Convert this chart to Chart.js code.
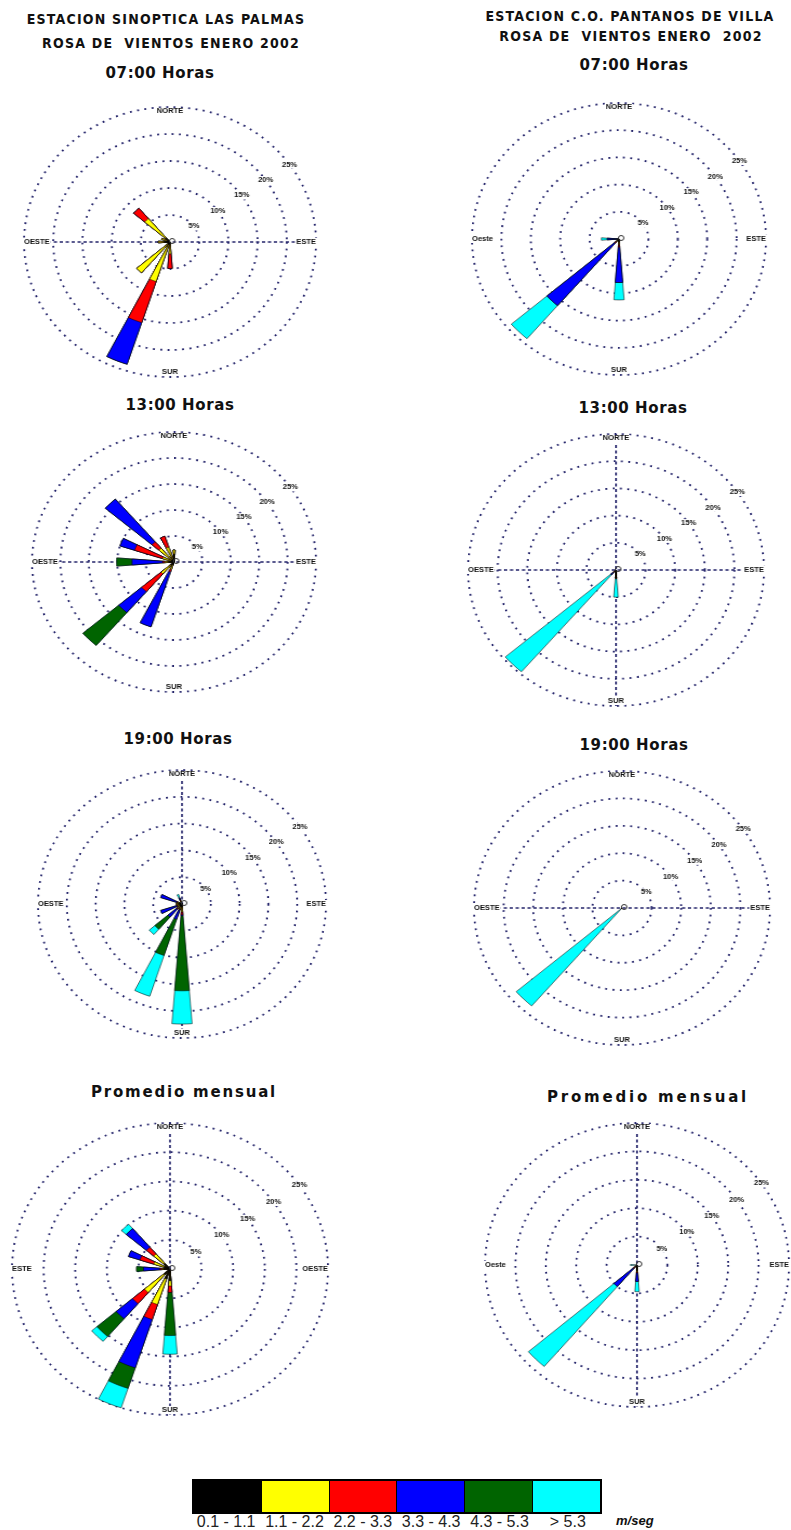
<!DOCTYPE html>
<html>
<head>
<meta charset="utf-8">
<title>Rosa de vientos enero 2002</title>
<script src="https://cdn.jsdelivr.net/npm/chart.js@4.4.1/dist/chart.umd.min.js"></script>
<style>
  html, body { margin: 0; padding: 0; background: #fff; }
  body { width: 791px; height: 1530px; position: relative; overflow: hidden; font-family: 'Liberation Sans', Arial, sans-serif; }
  .t { position: absolute; white-space: nowrap; transform: translate(-50%, -50%); color: #111; }
  .head { font-family: 'Liberation Sans Narrow', 'DejaVu Sans Condensed', sans-serif; font-weight: bold; font-size: 14px; letter-spacing: 1.2px; }
  .hour { font-family: 'DejaVu Sans', sans-serif; font-weight: bold; font-size: 15px; letter-spacing: 0.6px; }
  .rose { position: absolute; }
  .rose canvas { display: block; }
  #scale { position: absolute; left: 192px; top: 1479px; width: 406px; height: 31px; border: 2px solid #000; display: flex; }
  #scale div { flex: 1; border-left: 1px solid #000; }
  #scale div:first-child { border-left: none; }
  .cls { position: absolute; top: 1522px; transform: translate(-50%, -50%); font-size: 16px; color: #222; white-space: nowrap; }
  #units { position: absolute; left: 616px; top: 1513px; font-size: 13px; font-weight: bold; font-style: italic; color: #111; }
</style>
</head>
<body>

<div class="t head" style="left:166px; top:19px;">ESTACION SINOPTICA LAS PALMAS</div>
<div class="t head" style="left:171px; top:43px;">ROSA DE&nbsp; VIENTOS ENERO 2002</div>
<div class="t hour" style="left:160px; top:73px;">07:00 Horas</div>

<div class="t head" style="left:630px; top:16px;">ESTACION C.O. PANTANOS DE VILLA</div>
<div class="t head" style="left:631px; top:36px;">ROSA DE&nbsp; VIENTOS ENERO&nbsp; 2002</div>
<div class="t hour" style="left:634px; top:65px;">07:00 Horas</div>

<div class="t hour" style="left:180px; top:405px;">13:00 Horas</div>
<div class="t hour" style="left:633px; top:408px;">13:00 Horas</div>
<div class="t hour" style="left:178px; top:739px;">19:00 Horas</div>
<div class="t hour" style="left:634px; top:745px;">19:00 Horas</div>
<div class="t hour" style="left:184px; top:1092px; letter-spacing:1.8px;">Promedio mensual</div>
<div class="t hour" style="left:648px; top:1097px; letter-spacing:2.8px;">Promedio mensual</div>

<div class="rose" id="wrap1"><canvas id="c1"></canvas></div>
<div class="rose" id="wrap2"><canvas id="c2"></canvas></div>
<div class="rose" id="wrap3"><canvas id="c3"></canvas></div>
<div class="rose" id="wrap4"><canvas id="c4"></canvas></div>
<div class="rose" id="wrap5"><canvas id="c5"></canvas></div>
<div class="rose" id="wrap6"><canvas id="c6"></canvas></div>
<div class="rose" id="wrap7"><canvas id="c7"></canvas></div>
<div class="rose" id="wrap8"><canvas id="c8"></canvas></div>

<div id="scale"></div>
<div id="units">m/seg</div>

<script>
// Sixteen compass sectors, clockwise from north
const DIRECTIONS = ['N','NNE','NE','ENE','E','ESE','SE','SSE','S','SSW','SW','WSW','W','WNW','NW','NNW'];
// Wind speed classes (m/seg) and their colours
const SPEED_CLASSES = ['0.1 - 1.1', '1.1 - 2.2', '2.2 - 3.3', '3.3 - 4.3', '4.3 - 5.3', '> 5.3'];
const CLASS_COLORS = ['#000000', '#ffff00', '#ff0000', '#0000ff', '#006400', '#00ffff'];
// Frequency rings (%)
const RING_VALUES = [5, 10, 15, 20, 25];
const RING_LABELS = ['5%', '10%', '15%', '20%', '25%'];

// Frequency (%) per speed class (rows) and direction (columns N..NNW)
const lasPalmas07 = [
  [0,0,0,0,0,0,0,0, 0.3, 0.5, 0.5, 0, 1.0, 0.5, 1.0, 0],
  [0,0,0,0,0,0,0,0, 1.9, 7.2, 7.0, 0, 1.0, 1.0, 4.7, 0],
  [0,0,0,0,0,0,0,0, 2.7, 8.0, 0,   0, 0,   0,   2.5, 0],
  [0,0,0,0,0,0,0,0, 0,   8.1, 0,   0, 0,   0,   0,   0],
  [0,0,0,0,0,0,0,0, 0,   0,   0,   0, 0,   0,   0,   0],
  [0,0,0,0,0,0,0,0, 0,   0,   0,   0, 0,   0,   0,   0]
];
const pantanos07 = [
  [0,0,0,0,0,0,0,0, 0.5, 0, 0.3,  0, 0,   0, 0, 0],
  [0,0,0,0,0,0,0,0, 0.5, 0, 0.3,  0, 0,   0, 0, 0],
  [0,0,0,0,0,0,0,0, 0.5, 0, 0.4,  0, 0,   0, 0, 0],
  [0,0,0,0,0,0,0,0, 6.5, 0, 15.1, 0, 2.0, 0, 0, 0],
  [0,0,0,0,0,0,0,0, 0,   0, 0,    0, 0,   0, 0, 0],
  [0,0,0,0,0,0,0,0, 3.2, 0, 8.0,  0, 1.0, 0, 0, 0]
];
const lasPalmas13 = [
  [1.5,0,0,0,0,0,0,0, 0, 0.5,  0.8, 0, 1.0, 0.5, 0.5,  0.5],
  [0.8,0,0,0,0,0,0,0, 0, 1.0,  2.2, 0, 0.6, 1.6, 3.0,  2.5],
  [0,  0,0,0,0,0,0,0, 0, 0.5,  4.5, 0, 0.4, 5.2, 1.6,  2.2],
  [0,  0,0,0,0,0,0,0, 0, 11.1, 5.3, 0, 5.4, 2.7, 10.8, 0],
  [0,  0,0,0,0,0,0,0, 0, 0,    8.3, 0, 2.7, 0,   0,    0],
  [0,  0,0,0,0,0,0,0, 0, 0,    0,   0, 0,   0,   0,    0]
];
const pantanos13 = [
  [0,0,0,0,0,0,0,0, 1.5, 0, 0.2,  0, 0, 0, 0, 0],
  [0,0,0,0,0,0,0,0, 0,   0, 0.2,  0, 0, 0, 0, 0],
  [0,0,0,0,0,0,0,0, 0,   0, 0.2,  0, 0, 0, 0, 0],
  [0,0,0,0,0,0,0,0, 0,   0, 0.6,  0, 0, 0, 0, 0],
  [0,0,0,0,0,0,0,0, 0,   0, 0,    0, 0, 0, 0, 0],
  [0,0,0,0,0,0,0,0, 3.5, 0, 23.4, 0, 0, 0, 0, 0]
];
const lasPalmas19 = [
  [0,0,0,0,0,0,0,0, 0.5,  0.5, 0.5, 0.3, 0.5, 0.5, 0, 0.3],
  [0,0,0,0,0,0,0,0, 1.0,  0.5, 0.5, 0.5, 0.5, 0.3, 0, 0.3],
  [0,0,0,0,0,0,0,0, 0.5,  0.2, 0.2, 0.2, 0,   0.2, 0, 0.2],
  [0,0,0,0,0,0,0,0, 0.2,  1.8, 2.0, 2.9, 0,   2.9, 0, 0.4],
  [0,0,0,0,0,0,0,0, 14.0, 7.1, 3.0, 0,   0,   0,   0, 0],
  [0,0,0,0,0,0,0,0, 6.2,  8.0, 1.3, 0,   0,   0,   0, 0.7]
];
const pantanos19 = [
  [0,0,0,0,0,0,0,0, 0, 0, 0.2,  0, 0, 0, 0, 0],
  [0,0,0,0,0,0,0,0, 0, 0, 0,    0, 0, 0, 0, 0],
  [0,0,0,0,0,0,0,0, 0, 0, 0,    0, 0, 0, 0, 0],
  [0,0,0,0,0,0,0,0, 0, 0, 0,    0, 0, 0, 0, 0],
  [0,0,0,0,0,0,0,0, 0, 0, 0,    0, 0, 0, 0, 0],
  [0,0,0,0,0,0,0,0, 0, 0, 23.3, 0, 0, 0, 0, 0]
];
const lasPalmasMes = [
  [0,0,0,0,0,0,0,0, 2.0, 1.8, 1.3, 0, 1.0, 1.0, 1.3, 0],
  [0,0,0,0,0,0,0,0, 0.9, 4.6, 4.0, 0, 0.3, 1.7, 2.1, 0],
  [0,0,0,0,0,0,0,0, 1.1, 2.7, 2.5, 0, 0.3, 2.3, 1.5, 0],
  [0,0,0,0,0,0,0,0, 0,   8.7, 3.4, 0, 2.6, 1.9, 4.2, 0],
  [0,0,0,0,0,0,0,0, 7.4, 3.7, 4.0, 0, 1.1, 0,   0,   0],
  [0,0,0,0,0,0,0,0, 3.2, 3.5, 1.1, 0, 0,   0,   1.0, 0]
];
const pantanosMes = [
  [0,0,0,0,0,0,0,0, 1.0, 0, 0.3,  0, 0,   0, 0, 0],
  [0,0,0,0,0,0,0,0, 0.2, 0, 0.2,  0, 0,   0, 0, 0],
  [0,0,0,0,0,0,0,0, 0.2, 0, 0.3,  0, 0,   0, 0, 0],
  [0,0,0,0,0,0,0,0, 1.5, 0, 4.2,  0, 0,   0, 0, 0],
  [0,0,0,0,0,0,0,0, 0,   0, 0,    0, 0,   0, 0, 0],
  [0,0,0,0,0,0,0,0, 1.8, 0, 18.5, 0, 1.1, 0, 0, 0]
];

// Placement of each rose on the page (centre, horizontal and vertical radius)
const ROSES = [
  { canvas: 'c1', rows: lasPalmas07,  cx: 170, cy: 242,  rx: 146, ry: 135, h: true,  v: false, compass: ['NORTE', 'ESTE', 'SUR', 'OESTE'] },
  { canvas: 'c2', rows: pantanos07,   cx: 619, cy: 239,  rx: 147, ry: 136, h: false, v: false, compass: ['NORTE', 'ESTE', 'SUR', 'Oeste'] },
  { canvas: 'c3', rows: lasPalmas13,  cx: 174, cy: 562,  rx: 142, ry: 130, h: true,  v: false, compass: ['NORTE', 'ESTE', 'SUR', 'OESTE'] },
  { canvas: 'c4', rows: pantanos13,   cx: 616, cy: 570,  rx: 148, ry: 136, h: true,  v: true,  compass: ['NORTE', 'ESTE', 'SUR', 'OESTE'] },
  { canvas: 'c5', rows: lasPalmas19,  cx: 182, cy: 904,  rx: 144, ry: 134, h: false, v: true,  compass: ['NORTE', 'ESTE', 'SUR', 'OESTE'] },
  { canvas: 'c6', rows: pantanos19,   cx: 622, cy: 908,  rx: 148, ry: 137, h: true,  v: false, compass: ['NORTE', 'ESTE', 'SUR', 'OESTE'] },
  { canvas: 'c7', rows: lasPalmasMes, cx: 170, cy: 1269, rx: 158, ry: 146, h: false, v: true,  compass: ['NORTE', 'OESTE', 'SUR', 'ESTE'] },
  { canvas: 'c8', rows: pantanosMes,  cx: 637, cy: 1265, rx: 152, ry: 142, h: false, v: true,  compass: ['NORTE', 'ESTE', 'SUR', 'Oeste'] }
];

const GRID_COLOR = '#25256b';
const WEDGE_DEG = 9;           // angular width of each petal
const SECTOR_DEG = 360 / DIRECTIONS.length;
const PAD = 8;
const RING_LABEL_BEARING = 55;

// Petals alternate with empty gaps so that each sector draws a narrow wedge
const slotLabels = DIRECTIONS.flatMap(d => [d, '']);
function toSlots(values) {
  const s = [];
  values.forEach(v => { s.push(v); s.push(0); });
  return s;
}
// Running totals so that the speed classes stack outward along each petal
function cumulative(rows) {
  let acc = new Array(DIRECTIONS.length).fill(0);
  return rows.map(row => {
    acc = acc.map((v, i) => Math.round((v + row[i]) * 100) / 100);
    return acc.slice();
  });
}

const roseDecor = {
  id: 'roseDecor',
  beforeDatasetsDraw(chart, args, o) {
    const r = chart.scales.r, ctx = chart.ctx, R = r.drawingArea;
    const x0 = r.xCenter, y0 = r.yCenter;
    ctx.save();
    ctx.strokeStyle = GRID_COLOR;
    ctx.lineWidth = 1.6;
    ctx.setLineDash([3, 2.5]);
    if (o.horizontal) {
      ctx.beginPath(); ctx.moveTo(x0 - R, y0); ctx.lineTo(x0 + R, y0); ctx.stroke();
    }
    if (o.vertical) {
      ctx.beginPath(); ctx.moveTo(x0, y0 - R); ctx.lineTo(x0, y0 + R); ctx.stroke();
    }
    ctx.restore();
  },
  afterDatasetsDraw(chart, args, o) {
    const r = chart.scales.r, ctx = chart.ctx, R = r.drawingArea;
    const x0 = r.xCenter, y0 = r.yCenter;
    ctx.save();
    ctx.setLineDash([]);
    // calm marker
    ctx.strokeStyle = '#333';
    ctx.lineWidth = 1;
    ctx.beginPath(); ctx.arc(x0 + 2, y0 - 1, 2.5, 0, Math.PI * 2); ctx.stroke();

    // ring percentages
    ctx.font = 'bold 7px "Liberation Sans", Arial, sans-serif';
    ctx.textAlign = 'center';
    ctx.textBaseline = 'middle';
    const a = RING_LABEL_BEARING * Math.PI / 180;
    RING_VALUES.forEach((v, i) => {
      const d = r.getDistanceFromCenterForValue(v);
      const x = x0 + Math.sin(a) * d, y = y0 - Math.cos(a) * d;
      const w = ctx.measureText(RING_LABELS[i]).width;
      ctx.fillStyle = '#fff';
      ctx.fillRect(x - w / 2 - 1, y - 4, w + 2, 8);
      ctx.fillStyle = '#111';
      ctx.fillText(RING_LABELS[i], x, y);
    });

    // compass names on the outer ring
    const [n, e, s, w] = o.compass;
    const put = (text, x, y, align, base) => {
      ctx.textAlign = align;
      ctx.textBaseline = base;
      const tw = ctx.measureText(text).width;
      let lx = align === 'left' ? x : align === 'right' ? x - tw : x - tw / 2;
      let ly = base === 'top' ? y : base === 'bottom' ? y - 8 : y - 4;
      ctx.fillStyle = '#fff';
      ctx.fillRect(lx - 1, ly, tw + 2, 8);
      ctx.fillStyle = '#111';
      ctx.fillText(text, x, y);
    };
    put(n, x0, y0 - R + 1, 'center', 'top');
    put(s, x0, y0 + R - 1, 'center', 'bottom');
    put(w, x0 - R, y0, 'left', 'middle');
    put(e, x0 + R, y0, 'right', 'middle');
    ctx.restore();
  }
};

ROSES.forEach(cfg => {
  const S = 2 * cfg.ry + 2 * PAD;
  const wrap = document.getElementById(cfg.canvas).parentElement;
  wrap.style.left = (cfg.cx - S / 2) + 'px';
  wrap.style.top = (cfg.cy - S / 2) + 'px';
  wrap.style.width = S + 'px';
  wrap.style.height = S + 'px';
  wrap.style.transform = 'scaleX(' + (cfg.rx / cfg.ry) + ')';
  wrap.style.transformOrigin = '50% 50%';
  const canvas = document.getElementById(cfg.canvas);
  canvas.width = S;
  canvas.height = S;

  const totals = cumulative(cfg.rows);
  const datasets = totals.map((vals, k) => ({
    label: SPEED_CLASSES[k],
    data: toSlots(vals),
    backgroundColor: CLASS_COLORS[k],
    borderColor: 'rgba(0,0,0,0.75)',
    borderWidth: c => (c.raw > 0 ? 0.7 : 0),
    angle: c => (c.dataIndex % 2 === 0 ? WEDGE_DEG : SECTOR_DEG - WEDGE_DEG)
  }));

  new Chart(canvas, {
    type: 'polarArea',
    data: { labels: slotLabels, datasets },
    options: {
      responsive: false,
      animation: false,
      events: [],
      layout: { padding: PAD },
      plugins: {
        legend: { display: false },
        tooltip: { enabled: false },
        roseDecor: { horizontal: cfg.h, vertical: cfg.v, compass: cfg.compass }
      },
      scales: {
        r: {
          min: 0,
          max: RING_VALUES[RING_VALUES.length - 1],
          startAngle: -WEDGE_DEG / 2,
          ticks: { display: false, stepSize: RING_VALUES[0] },
          grid: { circular: true, color: GRID_COLOR, lineWidth: 1.8 },
          border: { dash: [1.8, 5] },
          angleLines: { display: false },
          pointLabels: { display: false }
        }
      }
    },
    plugins: [roseDecor]
  });
});

// Colour scale of speed classes
const scaleBox = document.getElementById('scale');
CLASS_COLORS.forEach(col => {
  const d = document.createElement('div');
  d.style.background = col;
  scaleBox.appendChild(d);
});
const boxW = 410 / SPEED_CLASSES.length;
SPEED_CLASSES.forEach((txt, i) => {
  const l = document.createElement('div');
  l.className = 'cls';
  l.textContent = txt;
  l.style.left = (192 + boxW * (i + 0.5)) + 'px';
  document.body.appendChild(l);
});
</script>
</body>
</html>
